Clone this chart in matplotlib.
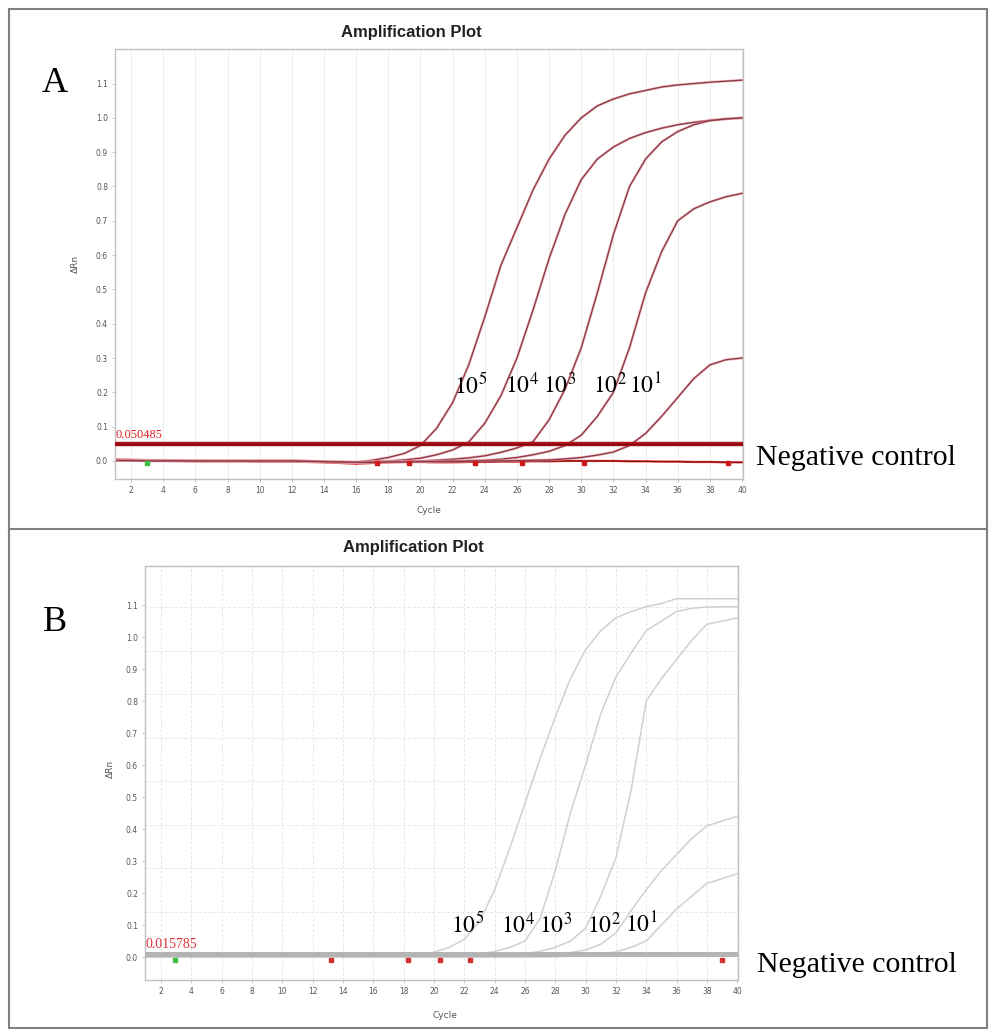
import matplotlib
matplotlib.use("Agg")
import matplotlib.pyplot as plt
from matplotlib.patches import Rectangle
from matplotlib.lines import Line2D
from matplotlib.ticker import FixedLocator

cycles = list(range(1, 41))

# ---- panel A (delta Rn per cycle) ----
a_labels = ["$10^5$", "$10^4$", "$10^3$", "$10^2$", "$10^1$"]
a_e5 = [0.004, 0.003, 0.002, 0.002, 0.001, 0.001, 0.000, 0.000, 0.000, 0.000,
        0.000, 0.000, -0.001, -0.002, -0.004, -0.004, 0.002, 0.010, 0.022, 0.045,
        0.095, 0.170, 0.280, 0.420, 0.570, 0.680, 0.790, 0.880, 0.950, 1.000,
        1.035, 1.055, 1.070, 1.080, 1.090, 1.096, 1.100, 1.104, 1.107, 1.110]
a_e4 = [0.003, 0.002, 0.002, 0.001, 0.001, 0.000, 0.000, 0.000, 0.000, 0.000,
        0.000, 0.000, -0.001, -0.002, -0.003, -0.004, -0.002, 0.000, 0.003, 0.008,
        0.018, 0.032, 0.055, 0.110, 0.190, 0.300, 0.440, 0.590, 0.720, 0.820,
        0.880, 0.915, 0.940, 0.957, 0.970, 0.980, 0.987, 0.993, 0.997, 1.000]
a_e3 = [0.002, 0.002, 0.001, 0.001, 0.000, 0.000, 0.000, 0.000, 0.000, 0.000,
        0.000, 0.000, -0.001, -0.002, -0.003, -0.004, -0.003, -0.002, -0.001, 0.000,
        0.002, 0.005, 0.009, 0.015, 0.025, 0.038, 0.056, 0.120, 0.210, 0.330,
        0.490, 0.660, 0.800, 0.880, 0.930, 0.960, 0.980, 0.992, 0.997, 1.000]
a_e2 = [0.002, 0.001, 0.001, 0.000, 0.000, 0.000, 0.000, 0.000, 0.000, 0.000,
        0.000, 0.000, -0.001, -0.002, -0.003, -0.004, -0.003, -0.003, -0.002, -0.002,
        -0.001, 0.000, 0.001, 0.002, 0.005, 0.010, 0.018, 0.028, 0.045, 0.075,
        0.130, 0.200, 0.330, 0.490, 0.610, 0.700, 0.735, 0.755, 0.770, 0.780]
a_e1 = [0.001, 0.001, 0.000, 0.000, 0.000, 0.000, 0.000, 0.000, 0.000, 0.000,
        0.000, 0.000, -0.001, -0.002, -0.003, -0.004, -0.004, -0.003, -0.003, -0.002,
        -0.002, -0.001, -0.001, 0.000, 0.000, 0.001, 0.002, 0.003, 0.006, 0.010,
        0.017, 0.026, 0.045, 0.080, 0.130, 0.185, 0.240, 0.280, 0.295, 0.300]
a_neg = [0.004, 0.003, 0.002, 0.001, 0.000, -0.001, -0.001, -0.001, -0.001, -0.002,
         -0.002, -0.002, -0.003, -0.004, -0.006, -0.008, -0.006, -0.004, -0.003, -0.003,
         -0.004, -0.004, -0.003, -0.003, -0.002, -0.002, -0.001, -0.001, 0.000, 0.000,
         0.000, 0.000, -0.001, -0.001, -0.002, -0.002, -0.003, -0.003, -0.004, -0.004]
a_threshold = 0.050485
a_red_marks = [17.3, 19.3, 23.4, 26.3, 30.2, 39.1]
a_green_marks = [3.0]
# label anchor (cycle, value) for each dilution
a_label_x = [22.1, 25.25, 27.6, 30.7, 33.0]
a_label_y = [0.22, 0.22, 0.22, 0.22, 0.22]

# ---- panel B ----
b_e5 = [0.000, 0.000, 0.000, 0.000, 0.000, 0.000, 0.000, 0.000, 0.000, 0.000,
        0.000, 0.000, 0.000, 0.000, 0.000, 0.000, 0.000, 0.002, 0.006, 0.015,
        0.030, 0.055, 0.110, 0.210, 0.340, 0.480, 0.620, 0.750, 0.870, 0.960,
        1.020, 1.060, 1.080, 1.095, 1.105, 1.120, 1.120, 1.120, 1.120, 1.120]
b_e4 = [0.000, 0.000, 0.000, 0.000, 0.000, 0.000, 0.000, 0.000, 0.000, 0.000,
        0.000, 0.000, 0.000, 0.000, 0.000, 0.000, 0.000, 0.000, 0.000, 0.000,
        0.002, 0.005, 0.010, 0.017, 0.030, 0.050, 0.120, 0.270, 0.450, 0.600,
        0.760, 0.875, 0.950, 1.020, 1.050, 1.080, 1.090, 1.094, 1.095, 1.095]
b_e3 = [0.000, 0.000, 0.000, 0.000, 0.000, 0.000, 0.000, 0.000, 0.000, 0.000,
        0.000, 0.000, 0.000, 0.000, 0.000, 0.000, 0.000, 0.000, 0.000, 0.000,
        0.000, 0.000, 0.000, 0.002, 0.005, 0.010, 0.018, 0.030, 0.050, 0.090,
        0.190, 0.310, 0.520, 0.800, 0.870, 0.930, 0.990, 1.040, 1.050, 1.060]
b_e2 = [0.000, 0.000, 0.000, 0.000, 0.000, 0.000, 0.000, 0.000, 0.000, 0.000,
        0.000, 0.000, 0.000, 0.000, 0.000, 0.000, 0.000, 0.000, 0.000, 0.000,
        0.000, 0.000, 0.000, 0.000, 0.000, 0.000, 0.003, 0.008, 0.014, 0.022,
        0.040, 0.075, 0.145, 0.210, 0.270, 0.320, 0.370, 0.410, 0.425, 0.440]
b_e1 = [0.000, 0.000, 0.000, 0.000, 0.000, 0.000, 0.000, 0.000, 0.000, 0.000,
        0.000, 0.000, 0.000, 0.000, 0.000, 0.000, 0.000, 0.000, 0.000, 0.000,
        0.000, 0.000, 0.000, 0.000, 0.000, 0.000, 0.000, 0.000, 0.003, 0.006,
        0.010, 0.016, 0.030, 0.050, 0.100, 0.150, 0.190, 0.230, 0.245, 0.260]
b_threshold = 0.015785
b_red_marks = [13.2, 18.3, 20.4, 22.4, 39.0]
b_green_marks = [2.9]
b_label_x = [21.1, 24.4, 26.9, 30.1, 32.6]
b_label_y = [0.10, 0.10, 0.10, 0.10, 0.10]

yticks = [0.0, 0.1, 0.2, 0.3, 0.4, 0.5, 0.6, 0.7, 0.8, 0.9, 1.0, 1.1]
xticks = list(range(2, 41, 2))

serif = ["Liberation Serif", "DejaVu Serif"]
narrow = ["Liberation Sans Narrow", "Liberation Sans", "DejaVu Sans"]

fig = plt.figure(figsize=(9.9, 10.3), dpi=100)


def setup_axes(ax, ylim, xlim):
    ax.set_xlim(*xlim)
    ax.set_ylim(*ylim)
    ax.set_xticks(xticks)
    ax.set_yticks(yticks)
    ax.set_xticklabels([str(t) for t in xticks])
    ax.set_yticklabels(["%.1f" % t for t in yticks])
    ax.tick_params(labelsize=5.5, labelcolor="#555555", color="#bbbbbb",
                   length=2, width=0.6, pad=3)
    for s in ax.spines.values():
        s.set_color("#c0c0c0")
        s.set_linewidth(1.0)
    ax.set_xlabel("Cycle", fontsize=6.5, color="#555555")
    ax.set_ylabel("ΔRn", fontsize=6.5, color="#555555")


# ---------- A ----------
axA = fig.add_axes([0.1162, 0.5350, 0.6343, 0.4175])
setup_axes(axA, (-0.0525, 1.201), (1.0, 40.06))
axA.grid(axis="x", color="#ececec", linewidth=0.7)
axA.set_axisbelow(True)
axA.xaxis.set_label_coords(0.50, -0.062)
axA.yaxis.set_label_coords(-0.056, 0.50)

axA.axhline(a_threshold, color="#b3121a", linewidth=3.2, zorder=3)
axA.axhline(a_threshold, color="#7a0a10", linewidth=1.0, zorder=3)
axA.plot(cycles, a_neg, color="#e02828", linewidth=1.6, zorder=2)
axA.plot(cycles, a_neg, color="#601010", linewidth=0.6, zorder=2)
for series in [a_e5, a_e4, a_e3, a_e2, a_e1]:
    axA.plot(cycles, series, color="#f0a0a8", linewidth=2.0, alpha=0.6, zorder=2)
    axA.plot(cycles, series, color="#8c3c48", linewidth=1.0, zorder=2)
axA.plot(a_red_marks, [-0.005] * len(a_red_marks), "s", color="#d01818",
         markersize=3, zorder=4)
axA.plot(a_green_marks, [-0.006], "s", color="#3cc040", markersize=3.5, zorder=4)
axA.text(1.05, a_threshold + 0.008, "0.050485", color="#e02020", fontsize=9,
         family=serif, va="bottom", ha="left")
for lab, x, y in zip(a_labels, a_label_x, a_label_y):
    axA.text(x, y, lab, fontsize=17, family=serif, va="center", ha="left",
             math_fontfamily="stix")
axA.text(40.9, 0.008, "Negative control", fontsize=21.5, family=serif,
         va="center", ha="left", clip_on=False)

# ---------- B ----------
axB = fig.add_axes([0.1465, 0.0485, 0.5990, 0.4019])
setup_axes(axB, (-0.072, 1.222), (0.94, 40.06))
axB.yaxis.set_minor_locator(FixedLocator([0.141, 0.277, 0.414, 0.55, 0.686,
                                          0.822, 0.958, 1.095]))
axB.tick_params(axis="y", which="minor", length=0)
axB.grid(axis="x", which="major", color="#e6e6e6", linewidth=0.7, linestyle=(0, (3, 2)))
axB.grid(axis="y", which="minor", color="#e6e6e6", linewidth=0.7, linestyle=(0, (3, 2)))
axB.set_axisbelow(True)
axB.xaxis.set_label_coords(0.506, -0.075)
axB.yaxis.set_label_coords(-0.05, 0.51)

for series in [b_e5, b_e4, b_e3, b_e2, b_e1]:
    axB.plot(cycles, series, color="#d0d0d0", linewidth=1.1, zorder=2)
axB.axhspan(0.0, b_threshold, color="#b4b4b4", linewidth=0, zorder=3)
axB.plot(b_red_marks, [-0.008] * len(b_red_marks), "s", color="#d03030",
         markersize=3, zorder=4)
axB.plot(b_green_marks, [-0.008], "s", color="#3cc040", markersize=3.5, zorder=4)
axB.text(0.98, b_threshold + 0.002, "0.015785", color="#e03038", fontsize=10,
         family=serif, va="bottom", ha="left")
for lab, x, y in zip(a_labels, b_label_x, b_label_y):
    axB.text(x, y, lab, fontsize=17, family=serif, va="center", ha="left",
             math_fontfamily="stix")
axB.text(41.3, -0.025, "Negative control", fontsize=21.5, family=serif,
         va="center", ha="left", clip_on=False)

# titles and panel letters
fig.text(0.416, 0.968, "Amplification Plot", fontsize=12, fontweight="bold",
         family=narrow, ha="center", va="center", color="#222222")
fig.text(0.418, 0.468, "Amplification Plot", fontsize=12, fontweight="bold",
         family=narrow, ha="center", va="center", color="#222222")
fig.text(0.0556, 0.919, "A", fontsize=26, family=serif, ha="center", va="center")
fig.text(0.0556, 0.396, "B", fontsize=26, family=serif, ha="center", va="center")

# frame around the two panels
fig.patches.append(Rectangle((9 / 990, 2 / 1030), 978 / 990, 1019 / 1030,
                             transform=fig.transFigure, fill=False,
                             edgecolor="#808080", linewidth=1.5))
fig.lines.append(Line2D([9 / 990, 987 / 990], [1 - 529 / 1030, 1 - 529 / 1030],
                        transform=fig.transFigure, color="#808080", linewidth=1.5))

fig.savefig("out.png", dpi=100)
